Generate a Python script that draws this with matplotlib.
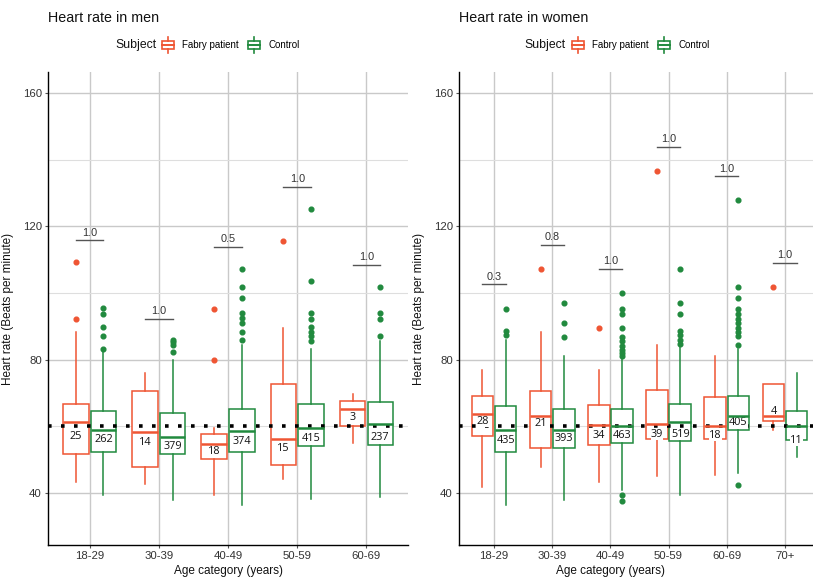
import matplotlib
matplotlib.use("Agg")
import matplotlib.pyplot as plt
from matplotlib.legend_handler import HandlerBase
from matplotlib.patches import Rectangle, Patch
from matplotlib.lines import Line2D

plt.rcParams['font.family'] = ['Liberation Sans', 'DejaVu Sans']

# ---------------- data ----------------
categories_men = ['18-29', '30-39', '40-49', '50-59', '60-69']
men_fabry_whislo = [43.2, 42.8, 39.5, 44.3, 55.0]
men_fabry_q1 = [51.7, 47.7, 50.3, 48.3, 60.0]
men_fabry_med = [61.4, 58.3, 54.8, 56.2, 65.2]
men_fabry_q3 = [66.7, 70.6, 57.8, 72.8, 67.5]
men_fabry_whishi = [88.2, 76.0, 59.5, 89.5, 69.7]
men_fabry_fliers = [[109.3, 92.3], [], [95.3, 80.0], [115.5], []]
men_fabry_n = [25, 14, 18, 15, 3]
men_fabry_label_y = [57.5, 55.5, 52.8, 53.8, 63.0]

men_ctrl_whislo = [39.3, 38.0, 36.5, 38.2, 38.8]
men_ctrl_q1 = [52.3, 51.7, 52.2, 54.0, 54.5]
men_ctrl_med = [58.9, 56.7, 58.5, 59.4, 60.7]
men_ctrl_q3 = [64.6, 63.9, 65.2, 66.7, 67.4]
men_ctrl_whishi = [82.2, 80.0, 84.3, 83.3, 85.7]
men_ctrl_fliers = [[95.5, 93.7, 89.7, 87.0, 83.3],
                   [86.0, 85.2, 84.4, 82.2],
                   [107.3, 101.8, 98.5, 94.0, 92.5, 91.0, 88.3, 85.8],
                   [125.2, 103.7, 94.0, 92.3, 89.7, 88.3, 87.0, 85.7],
                   [101.8, 94.0, 92.3, 87.0]]
men_ctrl_n = [262, 379, 374, 415, 237]
men_ctrl_label_y = [56.4, 54.3, 55.8, 56.8, 57.2]

men_p = ['1.0', '1.0', '0.5', '1.0', '1.0']
men_p_y = [115.8, 92.3, 113.8, 131.8, 108.5]

categories_women = ['18-29', '30-39', '40-49', '50-59', '60-69', '70+']
women_fabry_whislo = [41.7, 47.7, 43.3, 45.2, 45.5, 59.0]
women_fabry_q1 = [57.0, 53.5, 54.4, 56.2, 56.3, 61.5]
women_fabry_med = [63.8, 63.2, 60.4, 60.7, 60.0, 63.0]
women_fabry_q3 = [69.0, 70.5, 66.4, 71.0, 68.8, 72.8]
women_fabry_whishi = [77.0, 88.2, 76.9, 84.4, 81.0, 72.8]
women_fabry_fliers = [[], [107.2], [89.5], [136.5], [], [101.8]]
women_fabry_n = [28, 21, 34, 39, 18, 4]
women_fabry_label_y = [61.8, 61.3, 57.8, 58.0, 57.8, 65.0]

women_ctrl_whislo = [36.5, 38.0, 41.0, 39.3, 46.0, 50.8]
women_ctrl_q1 = [52.2, 53.5, 55.0, 55.5, 58.8, 55.8]
women_ctrl_med = [58.8, 58.8, 60.0, 61.3, 63.2, 60.0]
women_ctrl_q3 = [66.0, 65.2, 65.2, 66.7, 69.0, 64.5]
women_ctrl_whishi = [85.8, 81.0, 80.5, 83.7, 83.2, 76.0]
women_ctrl_fliers = [[95.2, 88.5, 87.5],
                     [96.9, 90.9, 86.9],
                     [100.1, 95.2, 93.8, 89.5, 86.8, 85.5, 84.2, 83.0, 82.0, 81.0, 39.5, 37.7],
                     [107.2, 96.9, 93.8, 88.5, 87.5, 86.0, 84.8],
                     [127.8, 101.8, 98.4, 95.2, 93.8, 92.3, 91.0, 89.6, 88.3, 87.0, 84.5, 42.3],
                     []]
women_ctrl_n = [435, 393, 463, 519, 405, 11]
women_ctrl_label_y = [56.3, 56.7, 57.8, 58.0, 61.5, 56.3]

women_p = ['0.3', '0.8', '1.0', '1.0', '1.0', '1.0']
women_p_y = [102.6, 114.4, 107.3, 143.8, 135.0, 109.0]

reference_hr = 60
subjects = ['Fabry patient', 'Control']

# ---------------- style ----------------
FABRY = '#EF5533'
CTRL = '#218A3E'
GRID = '#C9C9C9'
GRID_MINOR = '#DEDEDE'
LABEL_FS = 7.8


def make_stats(whislo, q1, med, q3, whishi, fliers):
    return [dict(whislo=a, q1=b, med=c, q3=d, whishi=e, fliers=f)
            for a, b, c, d, e, f in zip(whislo, q1, med, q3, whishi, fliers)]


def draw_group(ax, stats, positions, color):
    ax.bxp(stats, positions=positions, widths=0.37, showcaps=False,
           patch_artist=True, manage_ticks=False,
           boxprops=dict(facecolor='white', edgecolor=color, linewidth=1.1),
           whiskerprops=dict(color=color, linewidth=1.1),
           medianprops=dict(color=color, linewidth=1.8, zorder=7),
           flierprops=dict(marker='o', markerfacecolor=color, markeredgecolor=color,
                           markersize=3.4, linestyle='none'))


def count_labels(ax, xs, ns, ys):
    # place the visual centre of the digits at the given value
    for x, nn, yy in zip(xs, ns, ys):
        ax.annotate(str(nn), xy=(x, yy), xytext=(0, -LABEL_FS * 0.36),
                    textcoords='offset points', ha='center', va='baseline',
                    fontsize=LABEL_FS, family=['Open Sans', 'DejaVu Sans'],
                    color='#111111', zorder=6,
                    bbox=dict(boxstyle='square,pad=0.02', facecolor='white', edgecolor='none'))


def panel(ax, cats, fab, ctrl, fab_n, ctrl_n, fab_ly, ctrl_ly, pvals, py, xmax):
    n = len(cats)
    xs = list(range(1, n + 1))
    pos_f = [x - 0.2 for x in xs]
    pos_c = [x + 0.2 for x in xs]
    draw_group(ax, make_stats(*fab), pos_f, FABRY)
    draw_group(ax, make_stats(*ctrl), pos_c, CTRL)
    ax.axhline(reference_hr, color='black', linestyle=(0, (1, 2.6)), linewidth=2.6, zorder=5)
    count_labels(ax, pos_f, fab_n, fab_ly)
    count_labels(ax, pos_c, ctrl_n, ctrl_ly)
    for a, b, p, yy in zip(pos_f, pos_c, pvals, py):
        ax.plot([a, b], [yy, yy], color='#555555', linewidth=1.0, zorder=5)
        ax.text((a + b) / 2, yy + 0.8, p, ha='center', va='bottom', fontsize=7.8,
                color='#333333', zorder=5)
    ax.set_xlim(0.4, xmax)
    ax.set_ylim(24.4, 166.3)
    ax.set_xticks(xs)
    ax.set_xticklabels(cats)
    ax.set_yticks([40, 80, 120, 160])
    ax.set_yticks([60, 100, 140], minor=True)
    ax.grid(True, which='major', color=GRID, linewidth=1.0, zorder=0)
    ax.grid(True, which='minor', axis='y', color=GRID_MINOR, linewidth=0.8, zorder=0)
    ax.set_axisbelow(True)
    for s in ['top', 'right']:
        ax.spines[s].set_visible(False)
    for s in ['left', 'bottom']:
        ax.spines[s].set_color('black')
        ax.spines[s].set_linewidth(1.0)
    ax.tick_params(which='major', length=2.5, width=0.8, color='#555555',
                   labelsize=8.2, labelcolor='#333333', pad=2)
    ax.tick_params(which='minor', length=0)
    ax.set_xlabel('Age category (years)', fontsize=8.5, color='#111111')
    ax.set_ylabel('Heart rate (Beats per minute)', fontsize=8.5, color='#111111')


class BoxHandler(HandlerBase):
    def create_artists(self, legend, orig_handle, xdescent, ydescent, width, height,
                       fontsize, trans):
        c = orig_handle.get_edgecolor()
        x0, y0 = -xdescent, -ydescent
        cx = x0 + width / 2
        rect = Rectangle((x0 + 0.08 * width, y0 + 0.15 * height), 0.84 * width, 0.7 * height,
                         facecolor='white', edgecolor=c, linewidth=1.2, transform=trans)
        w1 = Line2D([cx, cx], [y0 - 0.15 * height, y0 + 0.15 * height], color=c, lw=1.2, transform=trans)
        w2 = Line2D([cx, cx], [y0 + 0.85 * height, y0 + 1.15 * height], color=c, lw=1.2, transform=trans)
        md = Line2D([x0 + 0.08 * width, x0 + 0.92 * width], [y0 + 0.5 * height] * 2,
                    color=c, lw=1.4, transform=trans)
        return [rect, w1, w2, md]


W, H = 813, 580
fig = plt.figure(figsize=(W / 100, H / 100), dpi=100)

ax1 = fig.add_axes([48 / W, 1 - 545 / H, 360 / W, 473 / H])
ax2 = fig.add_axes([459 / W, 1 - 545 / H, (W - 459) / W, 473 / H])

panel(ax1, categories_men,
      (men_fabry_whislo, men_fabry_q1, men_fabry_med, men_fabry_q3, men_fabry_whishi, men_fabry_fliers),
      (men_ctrl_whislo, men_ctrl_q1, men_ctrl_med, men_ctrl_q3, men_ctrl_whishi, men_ctrl_fliers),
      men_fabry_n, men_ctrl_n, men_fabry_label_y, men_ctrl_label_y, men_p, men_p_y, 5.6)
panel(ax2, categories_women,
      (women_fabry_whislo, women_fabry_q1, women_fabry_med, women_fabry_q3, women_fabry_whishi, women_fabry_fliers),
      (women_ctrl_whislo, women_ctrl_q1, women_ctrl_med, women_ctrl_q3, women_ctrl_whishi, women_ctrl_fliers),
      women_fabry_n, women_ctrl_n, women_fabry_label_y, women_ctrl_label_y, women_p, women_p_y, 6.48)

ax1.yaxis.set_label_coords((14 - 48) / 360, 0.5)
ax2.yaxis.set_label_coords((425 - 459) / (W - 459), 0.5)
ax1.xaxis.set_label_coords((228 - 48) / 360, (545 - 565) / 473)
ax2.xaxis.set_label_coords((610 - 459) / (W - 459), (545 - 565) / 473)

# titles
fig.text(48 / W, 1 - 18 / H, 'Heart rate in men', fontsize=10.3, ha='left', va='center', color='#111111')
fig.text(459 / W, 1 - 18 / H, 'Heart rate in women', fontsize=10.3, ha='left', va='center', color='#111111')

# legends
handles = [Patch(edgecolor=FABRY, facecolor='white'), Patch(edgecolor=CTRL, facecolor='white')]
for subj_x, leg_x in [(157, 161), (566, 571)]:
    fig.text(subj_x / W, 1 - 45 / H, 'Subject', fontsize=8.8, ha='right', va='center', color='#111111')
    fig.legend(handles, subjects, loc='center left', bbox_to_anchor=(leg_x / W, 1 - 45 / H),
               ncol=2, frameon=False, fontsize=7, handlelength=1.45, handleheight=1.5,
               handletextpad=0.7, columnspacing=0.9, borderpad=0, borderaxespad=0,
               handler_map={Patch: BoxHandler()})

fig.savefig('out.png', dpi=100, facecolor='white')
